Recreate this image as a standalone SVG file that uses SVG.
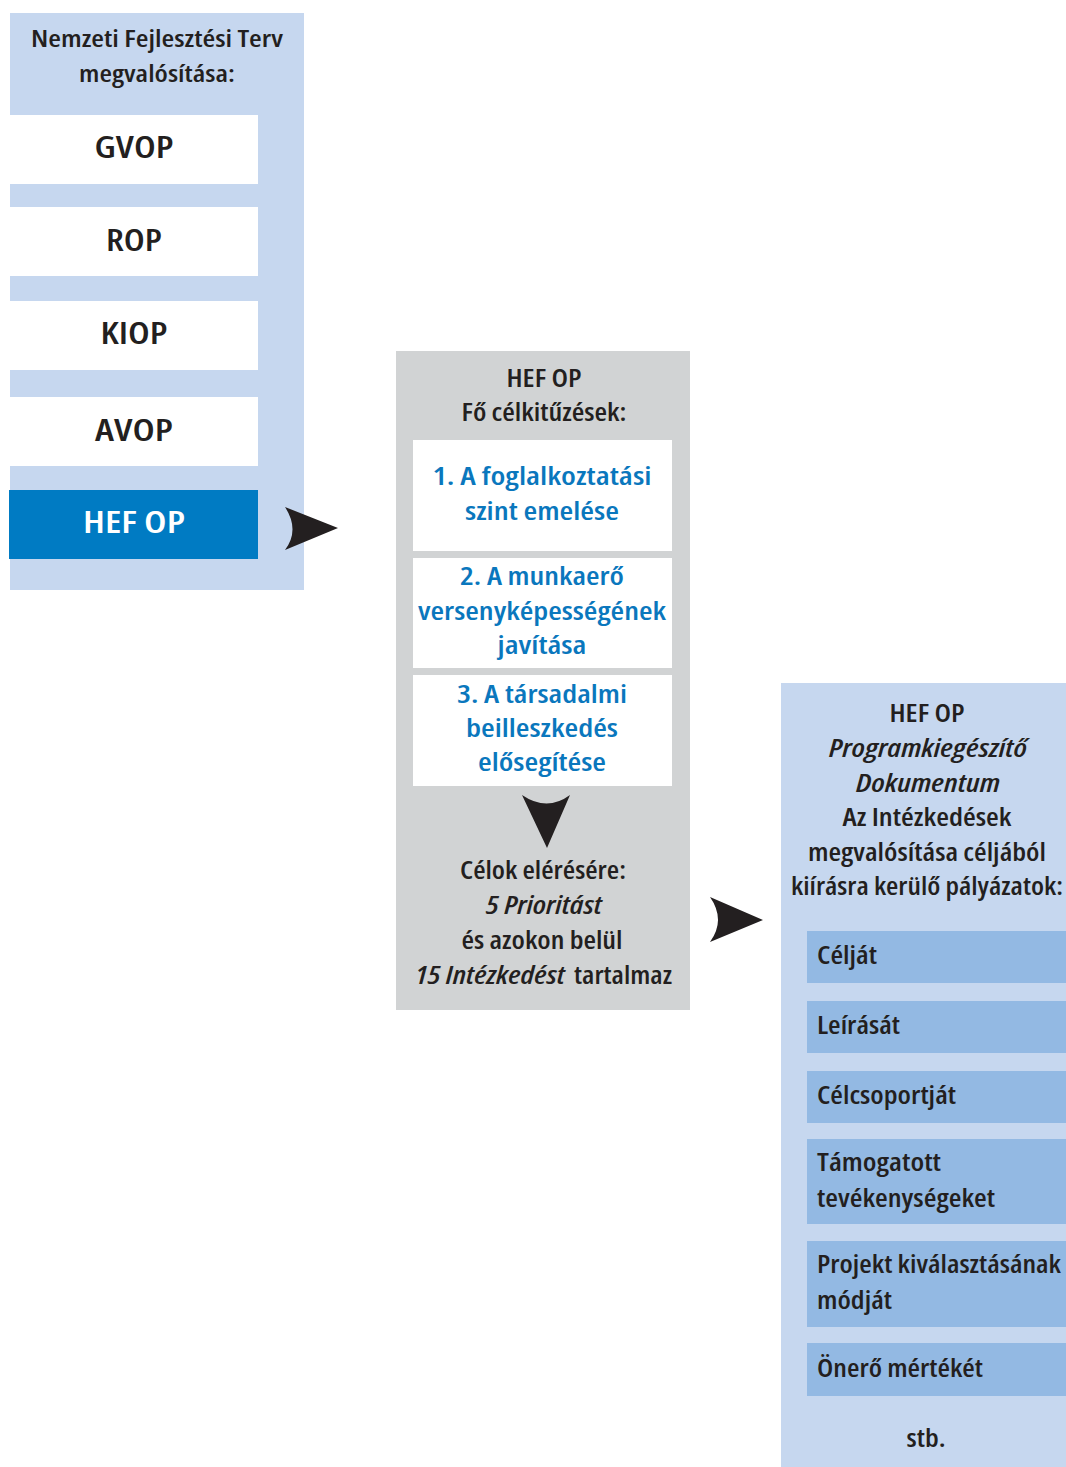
<svg xmlns="http://www.w3.org/2000/svg" width="1066" height="1467" viewBox="0 0 1066 1467">
  <style>
    text { font-family: "Open Sans", "Liberation Sans", Arial, sans-serif; font-weight: 600; font-stretch: 75%; fill: #231f20; }
    .panel-blue { fill: #c6d7ef; }
    .panel-gray { fill: #d1d3d4; }
    .box-white { fill: #ffffff; }
    .box-item { fill: #93b9e3; }
    .box-active { fill: #007bc3; }
    .title { font-size: 24px; text-anchor: middle; }
    .op { font-size: 30px; text-anchor: middle; }
    .op-active { fill: #ffffff; }
    .goal { font-size: 26px; text-anchor: middle; fill: #0a77bd; }
    .body { font-size: 26px; text-anchor: middle; }
    .start { text-anchor: start; }
    .item { font-size: 26px; }
    .it { font-style: italic; }
    .arrow { fill: #231f20; }
  </style>

  <!-- Nemzeti Fejlesztési Terv: operational programmes -->
  <g id="ndp">
    <rect class="panel-blue" x="10" y="13" width="294" height="577"/>
    <text class="title" x="157" y="47" textLength="252" lengthAdjust="spacingAndGlyphs">Nemzeti Fejlesztési Terv</text>
    <text class="title" x="157" y="82" textLength="156" lengthAdjust="spacingAndGlyphs">megvalósítása:</text>
  </g>
  <g id="op-gvop">
    <rect class="box-white" x="10" y="115" width="248" height="69"/>
    <text class="op" x="134" y="158" textLength="79" lengthAdjust="spacingAndGlyphs">GVOP</text>
  </g>
  <g id="op-rop">
    <rect class="box-white" x="10" y="207" width="248" height="69"/>
    <text class="op" x="134" y="251" textLength="56" lengthAdjust="spacingAndGlyphs">ROP</text>
  </g>
  <g id="op-kiop">
    <rect class="box-white" x="10" y="301" width="248" height="69"/>
    <text class="op" x="134" y="344" textLength="67" lengthAdjust="spacingAndGlyphs">KIOP</text>
  </g>
  <g id="op-avop">
    <rect class="box-white" x="10" y="397" width="248" height="69"/>
    <text class="op" x="134" y="441" textLength="78" lengthAdjust="spacingAndGlyphs">AVOP</text>
  </g>
  <g id="op-hefop">
    <rect class="box-active" x="9" y="490" width="249" height="69"/>
    <text class="op op-active" x="134" y="533" textLength="102" lengthAdjust="spacingAndGlyphs">HEF OP</text>
  </g>

  <!-- HEF OP main objectives -->
  <g id="hefop-goals">
    <rect class="panel-gray" x="396" y="351" width="294" height="659"/>
    <text class="body" x="544" y="387" textLength="75" lengthAdjust="spacingAndGlyphs">HEF OP</text>
    <text class="body" x="544" y="421" textLength="165" lengthAdjust="spacingAndGlyphs">Fő célkitűzések:</text>
  </g>
  <g id="goal-1">
    <rect class="box-white" x="413" y="440" width="259" height="111"/>
    <text class="goal" x="542" y="485" textLength="219" lengthAdjust="spacingAndGlyphs">1. A foglalkoztatási</text>
    <text class="goal" x="542" y="520" textLength="154" lengthAdjust="spacingAndGlyphs">szint emelése</text>
  </g>
  <g id="goal-2">
    <rect class="box-white" x="413" y="558" width="259" height="110"/>
    <text class="goal" x="542" y="585" textLength="164" lengthAdjust="spacingAndGlyphs">2. A munkaerő</text>
    <text class="goal" x="542" y="620" textLength="248" lengthAdjust="spacingAndGlyphs">versenyképességének</text>
    <text class="goal" x="542" y="654" textLength="89" lengthAdjust="spacingAndGlyphs">javítása</text>
  </g>
  <g id="goal-3">
    <rect class="box-white" x="413" y="675" width="259" height="111"/>
    <text class="goal" x="542" y="703" textLength="170" lengthAdjust="spacingAndGlyphs">3. A társadalmi</text>
    <text class="goal" x="542" y="737" textLength="152" lengthAdjust="spacingAndGlyphs">beilleszkedés</text>
    <text class="goal" x="542" y="771" textLength="128" lengthAdjust="spacingAndGlyphs">elősegítése</text>
  </g>
  <g id="goal-means">
    <text class="body" x="543" y="879" textLength="166" lengthAdjust="spacingAndGlyphs">Célok elérésére:</text>
    <text class="body it" x="544" y="914" textLength="116" lengthAdjust="spacingAndGlyphs">5 Prioritást</text>
    <text class="body" x="542" y="949" textLength="161" lengthAdjust="spacingAndGlyphs">és azokon belül</text>
    <text class="body it start" x="415" y="984" textLength="150" lengthAdjust="spacingAndGlyphs">15 Intézkedést</text>
    <text class="body start" x="574" y="984" textLength="98" lengthAdjust="spacingAndGlyphs">tartalmaz</text>
  </g>

  <!-- Programme Complement -->
  <g id="complement">
    <rect class="panel-blue" x="781" y="683" width="285" height="784"/>
    <text class="body" x="927" y="722" textLength="75" lengthAdjust="spacingAndGlyphs">HEF OP</text>
    <text class="body it" x="928" y="757" textLength="198" lengthAdjust="spacingAndGlyphs">Programkiegészítő</text>
    <text class="body it" x="928" y="792" textLength="144" lengthAdjust="spacingAndGlyphs">Dokumentum</text>
    <text class="body" x="927" y="826" textLength="169" lengthAdjust="spacingAndGlyphs">Az Intézkedések</text>
    <text class="body" x="927" y="861" textLength="238" lengthAdjust="spacingAndGlyphs">megvalósítása céljából</text>
    <text class="body" x="927" y="895" textLength="272" lengthAdjust="spacingAndGlyphs">kiírásra kerülő pályázatok:</text>
    <text class="body" x="926" y="1447" textLength="39" lengthAdjust="spacingAndGlyphs">stb.</text>
  </g>
  <g id="item-cel">
    <rect class="box-item" x="807" y="931" width="259" height="52"/>
    <text class="item" x="817" y="964" textLength="60" lengthAdjust="spacingAndGlyphs">Célját</text>
  </g>
  <g id="item-leiras">
    <rect class="box-item" x="807" y="1001" width="259" height="52"/>
    <text class="item" x="817" y="1034" textLength="83" lengthAdjust="spacingAndGlyphs">Leírását</text>
  </g>
  <g id="item-celcsoport">
    <rect class="box-item" x="807" y="1071" width="259" height="52"/>
    <text class="item" x="817" y="1104" textLength="139" lengthAdjust="spacingAndGlyphs">Célcsoportját</text>
  </g>
  <g id="item-tevekenyseg">
    <rect class="box-item" x="807" y="1139" width="259" height="85"/>
    <text class="item" x="817" y="1171" textLength="124" lengthAdjust="spacingAndGlyphs">Támogatott</text>
    <text class="item" x="817" y="1207" textLength="178" lengthAdjust="spacingAndGlyphs">tevékenységeket</text>
  </g>
  <g id="item-kivalasztas">
    <rect class="box-item" x="807" y="1241" width="259" height="86"/>
    <text class="item" x="817" y="1273" textLength="244" lengthAdjust="spacingAndGlyphs">Projekt kiválasztásának</text>
    <text class="item" x="817" y="1309" textLength="75" lengthAdjust="spacingAndGlyphs">módját</text>
  </g>
  <g id="item-onero">
    <rect class="box-item" x="807" y="1343" width="259" height="53"/>
    <text class="item" x="817" y="1377" textLength="166" lengthAdjust="spacingAndGlyphs">Önerő mértékét</text>
  </g>

  <!-- arrowheads linking the panels -->
  <g id="connectors">
    <path class="arrow" d="M285,507 L338,528 L285,550 Q300,530 285,507 Z"/>
    <path class="arrow" d="M522,795 Q547,812 570,795 L547,848 Z"/>
    <path class="arrow" d="M710,897 L763,920 L710,942 Q726,920 710,897 Z"/>
  </g>
</svg>
